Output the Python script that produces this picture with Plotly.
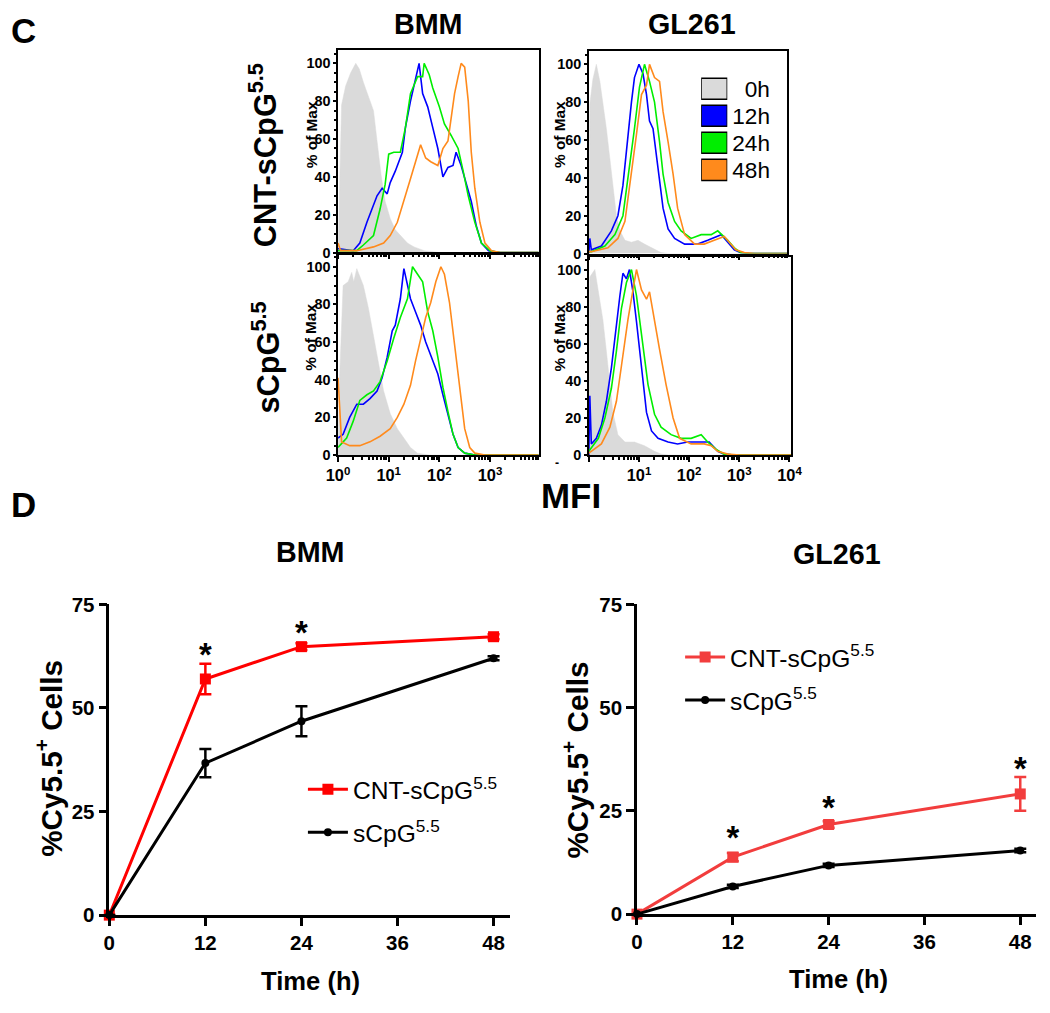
import plotly.graph_objects as go

W, H = 1050, 1013
FONT = "Liberation Sans, Arial, sans-serif"

# ---------------- Histogram data (log10 MFI, % of Max) ----------------
TIMES = ["0h", "12h", "24h", "48h"]
HIST_COLORS = ["#DADADA", "#0000FF", "#00EE00", "#FF8A1C"]

# BMM, CNT-sCpG5.5
BMM_CNT_0H_LOG = [0.0, 0.03, 0.07, 0.15, 0.25, 0.35, 0.42, 0.50, 0.63, 0.70, 0.77, 0.85, 0.93, 1.03, 1.13, 1.23, 1.37, 1.50, 1.70, 2.00, 3.96]
BMM_CNT_0H_PCT = [0, 40, 78, 88, 95, 100, 97, 90, 80, 75, 59, 41, 27, 18, 12, 9, 5, 3, 1, 0, 0]
BMM_CNT_12H_LOG = [0.0, 0.03, 0.30, 0.43, 0.57, 0.70, 0.77, 0.87, 0.97, 1.03, 1.13, 1.27, 1.33, 1.43, 1.53, 1.60, 1.67, 1.77, 1.87, 1.97, 2.07, 2.17, 2.27, 2.33, 2.43, 2.53, 2.63, 2.73, 2.83, 2.97, 3.20, 3.96]
BMM_CNT_12H_PCT = [2, 2, 1, 5, 16, 25, 30, 34, 31, 37, 43, 53, 66, 80, 91, 100, 84, 77, 66, 55, 40, 45, 46, 53, 46, 37, 27, 14, 5, 1, 0, 0]
BMM_CNT_24H_LOG = [0.0, 0.37, 0.50, 0.70, 0.83, 0.93, 1.00, 1.10, 1.23, 1.33, 1.43, 1.57, 1.67, 1.70, 1.80, 1.87, 2.00, 2.10, 2.23, 2.37, 2.47, 2.57, 2.70, 2.83, 3.00, 3.20, 3.96]
BMM_CNT_24H_PCT = [1, 1, 4, 9, 23, 36, 52, 53, 53, 66, 84, 93, 93, 100, 94, 87, 77, 68, 62, 55, 43, 30, 16, 5, 1, 0, 0]
BMM_CNT_48H_LOG = [0.0, 0.05, 0.37, 0.57, 0.70, 0.90, 1.03, 1.17, 1.30, 1.43, 1.53, 1.63, 1.73, 1.83, 1.97, 2.07, 2.17, 2.23, 2.30, 2.37, 2.43, 2.50, 2.57, 2.63, 2.70, 2.80, 2.90, 3.03, 3.20, 3.96]
BMM_CNT_48H_PCT = [5, 1, 1, 2, 3, 5, 9, 16, 27, 39, 48, 57, 50, 48, 46, 55, 59, 71, 84, 93, 100, 98, 80, 53, 34, 16, 5, 1, 0, 0]

# BMM, sCpG5.5
BMM_S_0H_LOG = [0.0, 0.03, 0.10, 0.20, 0.27, 0.31, 0.37, 0.50, 0.60, 0.70, 0.80, 0.90, 1.03, 1.17, 1.30, 1.43, 1.57, 1.80, 3.96]
BMM_S_0H_PCT = [0, 40, 90, 92, 97, 92, 99, 90, 78, 64, 50, 34, 22, 14, 9, 4, 1, 0, 0]
BMM_S_12H_LOG = [0.0, 0.10, 0.23, 0.37, 0.50, 0.63, 0.77, 0.87, 0.97, 1.07, 1.13, 1.23, 1.30, 1.37, 1.43, 1.53, 1.63, 1.73, 1.83, 1.97, 2.07, 2.17, 2.27, 2.37, 2.50, 2.70, 3.96]
BMM_S_12H_PCT = [9, 11, 20, 27, 27, 30, 34, 41, 52, 66, 69, 83, 99, 90, 83, 76, 69, 60, 53, 43, 32, 22, 11, 4, 1, 0, 0]
BMM_S_24H_LOG = [0.0, 0.17, 0.30, 0.43, 0.57, 0.70, 0.83, 0.97, 1.10, 1.23, 1.37, 1.47, 1.57, 1.67, 1.77, 1.87, 1.97, 2.07, 2.17, 2.27, 2.37, 2.50, 2.70, 3.96]
BMM_S_24H_PCT = [4, 9, 18, 29, 32, 34, 39, 50, 62, 73, 83, 100, 96, 92, 76, 66, 52, 36, 23, 11, 4, 1, 0, 0]
BMM_S_48H_LOG = [0.0, 0.07, 0.23, 0.43, 0.63, 0.83, 1.03, 1.17, 1.30, 1.43, 1.53, 1.63, 1.73, 1.83, 1.93, 2.03, 2.10, 2.20, 2.30, 2.40, 2.50, 2.60, 2.70, 2.90, 3.96]
BMM_S_48H_PCT = [41, 7, 5, 5, 7, 10, 14, 20, 27, 37, 50, 62, 73, 81, 92, 100, 96, 81, 59, 34, 14, 4, 1, 0, 0]

# GL261, CNT-sCpG5.5
GL_CNT_0H_LOG = [0.0, 0.02, 0.08, 0.15, 0.22, 0.28, 0.35, 0.42, 0.48, 0.55, 0.62, 0.72, 0.85, 0.98, 1.11, 1.25, 1.44, 1.60, 4.0]
GL_CNT_0H_PCT = [0, 79, 92, 100, 91, 80, 66, 50, 35, 20, 12, 7, 6, 7, 5, 3, 0.5, 0, 0]
GL_CNT_12H_LOG = [0.0, 0.02, 0.05, 0.25, 0.45, 0.58, 0.68, 0.78, 0.85, 0.91, 1.00, 1.08, 1.15, 1.21, 1.28, 1.38, 1.48, 1.58, 1.71, 1.91, 2.17, 2.37, 2.64, 2.77, 2.90, 3.03, 3.20, 4.0]
GL_CNT_12H_PCT = [0, 8, 2, 4, 12, 20, 36, 63, 80, 93, 100, 95, 84, 70, 66, 45, 24, 13, 8, 5, 5, 7, 10, 6, 2, 0.5, 0, 0]
GL_CNT_24H_LOG = [0.0, 0.05, 0.32, 0.52, 0.68, 0.81, 0.91, 1.01, 1.11, 1.21, 1.31, 1.41, 1.48, 1.58, 1.71, 1.84, 2.04, 2.24, 2.44, 2.57, 2.77, 2.90, 3.03, 3.20, 4.0]
GL_CNT_24H_PCT = [1, 1, 4, 10, 20, 45, 66, 88, 100, 91, 80, 59, 42, 27, 17, 12, 8, 10, 10, 12, 7, 3, 0.5, 0, 0]
GL_CNT_48H_LOG = [0.0, 0.05, 0.38, 0.58, 0.72, 0.85, 0.95, 1.05, 1.15, 1.21, 1.31, 1.41, 1.48, 1.58, 1.68, 1.77, 1.91, 2.11, 2.30, 2.50, 2.70, 2.80, 2.93, 3.10, 3.30, 4.0]
GL_CNT_48H_PCT = [1, 1, 3, 8, 17, 42, 63, 84, 89, 100, 93, 91, 75, 59, 42, 24, 10, 5, 5, 7, 9, 6, 2, 0.5, 0, 0]

# GL261, sCpG5.5
GL_S_0H_LOG = [0.0, 0.02, 0.12, 0.19, 0.28, 0.35, 0.42, 0.48, 0.58, 0.72, 0.91, 1.11, 1.31, 1.44, 1.60, 4.1]
GL_S_0H_PCT = [0, 96, 100, 89, 73, 56, 38, 23, 11, 7, 7, 5, 2, 0.5, 0, 0]
GL_S_12H_LOG = [0.0, 0.02, 0.05, 0.15, 0.25, 0.35, 0.45, 0.55, 0.62, 0.68, 0.75, 0.81, 0.88, 0.95, 1.05, 1.15, 1.25, 1.38, 1.58, 1.77, 1.97, 2.24, 2.40, 2.57, 2.70, 2.90, 4.1]
GL_S_12H_PCT = [0, 32, 6, 9, 16, 29, 47, 72, 86, 98, 95, 100, 88, 72, 47, 23, 13, 9, 7, 6, 7, 7, 7, 2, 0.5, 0, 0]
GL_S_24H_LOG = [0.0, 0.05, 0.19, 0.32, 0.45, 0.55, 0.65, 0.75, 0.85, 0.95, 1.05, 1.18, 1.31, 1.44, 1.64, 1.84, 2.04, 2.24, 2.37, 2.54, 2.70, 2.90, 4.1]
GL_S_24H_PCT = [2, 4, 9, 20, 36, 56, 79, 93, 100, 86, 64, 38, 22, 15, 11, 9, 9, 11, 7, 3, 0.5, 0, 0]
GL_S_48H_LOG = [0.0, 0.05, 0.25, 0.42, 0.55, 0.65, 0.78, 0.88, 0.95, 1.05, 1.15, 1.21, 1.31, 1.41, 1.54, 1.68, 1.81, 2.04, 2.30, 2.44, 2.57, 2.77, 3.00, 4.1]
GL_S_48H_PCT = [1, 2, 6, 15, 29, 48, 73, 89, 100, 89, 84, 88, 72, 57, 38, 20, 9, 6, 6, 5, 2, 0.5, 0, 0]

# ---------------- Time-course data ----------------
TIME_H = [0, 12, 24, 48]
BMM_CNT_MEAN = [0, 57.0, 64.8, 67.2]
BMM_CNT_ERR = [0, 3.7, 0.8, 0.6]
BMM_S_MEAN = [0, 36.7, 46.8, 62.0]
BMM_S_ERR = [0, 3.4, 3.6, 0.5]
GL_CNT_MEAN = [0, 13.8, 21.7, 29.1]
GL_CNT_ERR = [0, 1.0, 0.8, 4.1]
GL_S_MEAN = [0, 6.7, 11.8, 15.4]
GL_S_ERR = [0, 0.4, 0.4, 0.4]
BMM_STAR_T = [12, 24]
BMM_STAR_Y = [62.0, 67.5]
GL_STAR_T = [12, 24, 48]
GL_STAR_Y = [17.8, 25.0, 34.5]

TIME_TICKS = [0, 12, 24, 36, 48]
PCT_TICKS = [0, 25, 50, 75]
HIST_Y_TICKS = [0, 20, 40, 60, 80, 100]
DECADES = [1, 10, 100, 1000, 10000]
DECADE_TEXT = ["10<sup>0</sup>", "10<sup>1</sup>", "10<sup>2</sup>", "10<sup>3</sup>", "10<sup>4</sup>"]

# Layout calibration (maps reference pixel positions to figure positions)
SC, OX, OY = 0.975, 10.0, 12.0


def PX(x):
    return (x - OX) / SC


def PY(y):
    return (y - OY) / SC


def FS(s):
    return round(s / SC, 1)


def dx(a, b):
    return [PX(a) / W, PX(b) / W]


def dy(top, bottom):
    return [1 - PY(bottom) / H, 1 - PY(top) / H]


fig = go.Figure()

panels = [
    (1, (335, 535), (50, 252), 3.96, False, 0,
     [(BMM_CNT_0H_LOG, BMM_CNT_0H_PCT), (BMM_CNT_12H_LOG, BMM_CNT_12H_PCT),
      (BMM_CNT_24H_LOG, BMM_CNT_24H_PCT), (BMM_CNT_48H_LOG, BMM_CNT_48H_PCT)]),
    (2, (335, 535), (253, 454), 3.96, True, 0,
     [(BMM_S_0H_LOG, BMM_S_0H_PCT), (BMM_S_12H_LOG, BMM_S_12H_PCT),
      (BMM_S_24H_LOG, BMM_S_24H_PCT), (BMM_S_48H_LOG, BMM_S_48H_PCT)]),
    (3, (585, 783), (51, 253), 3.96, False, 1,
     [(GL_CNT_0H_LOG, GL_CNT_0H_PCT), (GL_CNT_12H_LOG, GL_CNT_12H_PCT),
      (GL_CNT_24H_LOG, GL_CNT_24H_PCT), (GL_CNT_48H_LOG, GL_CNT_48H_PCT)]),
    (4, (585, 787), (256, 454), 4.04, True, 1,
     [(GL_S_0H_LOG, GL_S_0H_PCT), (GL_S_12H_LOG, GL_S_12H_PCT),
      (GL_S_24H_LOG, GL_S_24H_PCT), (GL_S_48H_LOG, GL_S_48H_PCT)]),
]

minor_vals = [m * d for d in DECADES[:4] for m in range(2, 10)]

for n, xd, yd, xmax, show_lbl, first_lbl, data in panels:
    xa = "x" if n == 1 else f"x{n}"
    ya = "y" if n == 1 else f"y{n}"
    for i, (lg, pc) in enumerate(data):
        xs = [10 ** v for v in lg]
        if i == 0:
            fig.add_trace(go.Scatter(x=xs, y=pc, xaxis=xa, yaxis=ya, mode="lines",
                                     fill="tozeroy", fillcolor=HIST_COLORS[0],
                                     line=dict(color=HIST_COLORS[0], width=0.5),
                                     showlegend=False, hoverinfo="skip"))
        else:
            fig.add_trace(go.Scatter(x=xs, y=pc, xaxis=xa, yaxis=ya, mode="lines",
                                     line=dict(color=HIST_COLORS[i], width=1.6),
                                     showlegend=False, hoverinfo="skip"))
    ttext = [("" if k < first_lbl else DECADE_TEXT[k]) for k in range(len(DECADES))]
    fig.layout["xaxis" if n == 1 else f"xaxis{n}"] = dict(
        type="log", range=[0, xmax], domain=dx(*xd), anchor=ya,
        showline=True, mirror=True, linecolor="black", linewidth=1.5,
        ticks="outside", ticklen=5, tickwidth=1.5, tickcolor="black",
        tickmode="array", tickvals=DECADES, ticktext=ttext,
        showticklabels=show_lbl,
        tickfont=dict(family=FONT, size=FS(16), color="black", weight="bold"),
        minor=dict(ticks="outside", ticklen=3, tickcolor="black", tickmode="array",
                   tickvals=minor_vals, showgrid=False),
        showgrid=False, zeroline=False)
    fig.layout["yaxis" if n == 1 else f"yaxis{n}"] = dict(
        range=[0, 107], domain=dy(*yd), anchor=xa,
        showline=True, mirror=True, linecolor="black", linewidth=1.5,
        ticks="outside", ticklen=3, tickwidth=1.5, tickcolor="black",
        tickmode="array", tickvals=HIST_Y_TICKS,
        tickfont=dict(family=FONT, size=FS(14), color="black", weight="bold"),
        minor=dict(ticks="outside", ticklen=2, tickcolor="black", dtick=5),
        showgrid=False, zeroline=False)

# Histogram legend (boxes with labels)
LEGEND_LABELS = ["\u00a0\u00a00h", "12h", "24h", "48h"]
fig.add_trace(go.Bar(x=[1, 1, 1, 1], y=TIMES, orientation="h", xaxis="x7", yaxis="y7",
                     marker=dict(color=HIST_COLORS, line=dict(color="black", width=1.5)),
                     showlegend=False, hoverinfo="skip"))
fig.layout["xaxis7"] = dict(domain=dx(697, 723), range=[0, 1], visible=False, anchor="y7")
fig.layout["yaxis7"] = dict(domain=dy(75, 183), anchor="x7", type="category",
                            autorange="reversed", side="right", showline=False,
                            ticks="", tickmode="array", tickvals=TIMES, ticktext=LEGEND_LABELS,
                            ticklabelstandoff=4, showgrid=False, zeroline=False,
                            tickfont=dict(family=FONT, size=FS(22), color="black"))

# ---------------- Time-course charts ----------------
RED1 = "#FF0000"
RED2 = "#F23D3D"
line_panels = [
    (5, (107, 506), (603, 913), BMM_CNT_MEAN, BMM_CNT_ERR, BMM_S_MEAN, BMM_S_ERR,
     BMM_STAR_T, BMM_STAR_Y, RED1, "legend", (300, 765)),
    (6, (633, 1031), (603, 912), GL_CNT_MEAN, GL_CNT_ERR, GL_S_MEAN, GL_S_ERR,
     GL_STAR_T, GL_STAR_Y, RED2, "legend2", (676, 633)),
]
for n, xd, yd, cm, ce, sm, se, st, sy, red, leg, lpos in line_panels:
    xa, ya = f"x{n}", f"y{n}"
    fig.add_trace(go.Scatter(
        x=TIME_H, y=cm, xaxis=xa, yaxis=ya, mode="lines+markers", name="CNT-sCpG<sup>5.5</sup>",
        line=dict(color=red, width=3), marker=dict(symbol="square", size=11, color=red),
        error_y=dict(type="data", array=ce, color=red, thickness=2.5, width=6),
        cliponaxis=False, legend=leg, legendgroup=f"a{n}", hoverinfo="skip"))
    fig.add_trace(go.Scatter(
        x=TIME_H, y=sm, xaxis=xa, yaxis=ya, mode="lines+markers", name="sCpG<sup>5.5</sup>",
        line=dict(color="black", width=3), marker=dict(symbol="circle", size=8, color="black"),
        error_y=dict(type="data", array=se, color="black", thickness=2.5, width=6),
        cliponaxis=False, legend=leg, legendgroup=f"b{n}", hoverinfo="skip"))
    fig.add_trace(go.Scatter(
        x=st, y=sy, xaxis=xa, yaxis=ya, mode="text", text=["*"] * len(st),
        textfont=dict(family=FONT, size=FS(32), color="black", weight="bold"),
        cliponaxis=False, showlegend=False, hoverinfo="skip"))
    fig.layout[f"xaxis{n}"] = dict(
        domain=dx(*xd), range=[0, 50], anchor=ya, showline=True, linecolor="black",
        linewidth=2.5, ticks="outside", ticklen=8, tickwidth=2.5, tickcolor="black",
        tickmode="array", tickvals=TIME_TICKS, showgrid=False, zeroline=False,
        tickfont=dict(family=FONT, size=FS(20), color="black", weight="bold"))
    fig.layout[f"yaxis{n}"] = dict(
        domain=dy(*yd), range=[0, 75], anchor=xa, showline=True, linecolor="black",
        linewidth=2.5, ticks="outside", ticklen=8, tickwidth=2.5, tickcolor="black",
        tickmode="array", tickvals=PCT_TICKS, showgrid=False, zeroline=False,
        tickfont=dict(family=FONT, size=FS(20), color="black", weight="bold"))
    fig.layout[leg] = dict(x=PX(lpos[0]) / W, y=1 - PY(lpos[1]) / H, xanchor="left",
                           yanchor="top", bgcolor="rgba(0,0,0,0)", tracegroupgap=8,
                           itemwidth=40, font=dict(family=FONT, size=FS(24), color="black"))


# ---------------- Text labels ----------------
def ann(text, x, y, size, angle=0, weight="bold"):
    fig.add_annotation(text=text, x=PX(x) / W, y=1 - PY(y) / H, xref="paper", yref="paper",
                       showarrow=False, textangle=angle, xanchor="center", yanchor="middle",
                       font=dict(family=FONT, size=FS(size), color="black", weight=weight))


ann("C", 21, 30, 34)
ann("D", 21, 503, 34)
ann("BMM", 425, 24, 28)
ann("GL261", 688, 24, 28)
ann("CNT-sCpG<sup>5.5</sup>", 261, 155, 30, -90)
ann("sCpG<sup>5.5</sup>", 263, 357, 30, -90)
ann("% of Max", 308, 134, 15, -90)
ann("% of Max", 308, 336, 15, -90)
ann("% of Max", 556, 134, 15, -90)
ann("% of Max", 556, 337, 15, -90)
ann("-", 553, 462, 12)
ann("MFI", 567, 494, 34)
ann("BMM", 308, 551, 28)
ann("GL261", 832, 553, 28)
ann("%Cy5.5<sup>+</sup> Cells", 47, 757, 29, -90)
ann("%Cy5.5<sup>+</sup> Cells", 572, 758, 29, -90)
ann("Time (h)", 308, 979, 25)
ann("Time (h)", 834, 977, 25)

fig.update_layout(width=W, height=H, margin=dict(l=0, r=0, t=0, b=0),
                  paper_bgcolor="white", plot_bgcolor="white", bargap=0.22,
                  font=dict(family=FONT, color="black"))

fig.write_html(
    "out.html",
    config={"displayModeBar": False},
    post_script=("document.documentElement.style.margin='0';"
                 "document.documentElement.style.overflow='hidden';"
                 "document.body.style.margin='0';document.body.style.padding='0';"
                 "document.body.style.overflow='hidden';"),
)
